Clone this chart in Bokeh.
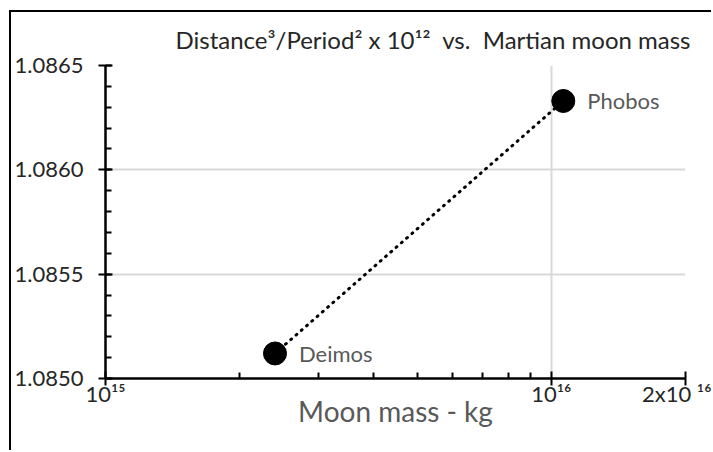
import numpy as np
from bokeh.plotting import figure
from bokeh.models import (FixedTicker, CustomJSTickFormatter, PrintfTickFormatter,
                          Title, Range1d, ColumnDataSource)
from bokeh.core.properties import value
from bokeh.embed import file_html
from bokeh.resources import INLINE

# ---- data ----
moons = ["Deimos", "Phobos"]
mass_kg = [2.40e15, 1.064e16]
ratio = [1.08512, 1.08633]

x_ticks = [1e15, 1e16, 2e16]
x_tick_labels = ["10\u00b9\u2075", "10\u00b9\u2076", "2x10 \u00b9\u2076"]
x_minor = [2e15, 3e15, 4e15, 5e15, 6e15, 7e15, 8e15, 9e15]
y_ticks = [1.0850, 1.0855, 1.0860, 1.0865]
y_minor = [float(v) for v in np.round(np.arange(1.0850, 1.08655, 0.0001), 4)]

title_text = "Distance\u00b3/Period\u00b2 x 10\u00b9\u00b2\u00a0\u00a0vs.\u00a0\u00a0Martian moon mass"
x_label = "Moon mass - kg"

FONT = "Lato"
X_MIN, X_MAX = 1e15, 2e16
Y_MIN, Y_MAX = 1.0850, 1.0865

p = figure(width=702, height=440, x_axis_type="log",
           x_range=Range1d(X_MIN, X_MAX), y_range=Range1d(Y_MIN, Y_MAX),
           output_backend="svg", toolbar_location=None,
           min_border_left=91, min_border_right=28,
           min_border_top=53, min_border_bottom=74)
p.styles = {"margin-left": "9px", "margin-top": "10px",
            "border-left": "2px solid black", "border-top": "2px solid black"}
p.outline_line_color = None
p.background_fill_color = "white"
p.border_fill_color = "white"

# title
p.title = Title(text=title_text, align="right", vertical_align="top",
                text_font=FONT, text_font_size="24px", text_font_style="normal",
                text_color="#262626", standoff=20, offset=-5)

# grids
p.ygrid.ticker = FixedTicker(ticks=y_ticks)
p.ygrid.grid_line_color = "#d9d9d9"
p.ygrid.grid_line_width = 2
p.xgrid.ticker = FixedTicker(ticks=[1e16])
p.xgrid.grid_line_color = "#d9d9d9"
p.xgrid.grid_line_width = 2

# x axis
xa = p.xaxis[0]
xa.ticker = FixedTicker(ticks=x_ticks, minor_ticks=x_minor)
xa.formatter = CustomJSTickFormatter(args=dict(tvals=x_ticks, tlabels=x_tick_labels), code="""
let best = 0;
for (let i = 0; i < tvals.length; i++) {
  if (Math.abs(Math.log10(tvals[i]) - Math.log10(tick)) <
      Math.abs(Math.log10(tvals[best]) - Math.log10(tick))) best = i;
}
return tlabels[best];
""")
xa.axis_line_width = 2.5
xa.axis_line_color = "black"
xa.major_tick_in = 7
xa.major_tick_out = 7
xa.major_tick_line_width = 2
xa.minor_tick_in = 6
xa.minor_tick_out = 0
xa.minor_tick_line_width = 2
xa.major_label_text_font = FONT
xa.major_label_text_font_size = "22px"
xa.major_label_text_color = "#262626"
xa.major_label_standoff = -6
xa.axis_label = x_label
xa.axis_label_text_font = FONT
xa.axis_label_text_font_size = "28px"
xa.axis_label_text_font_style = "normal"
xa.axis_label_text_color = "#595959"
xa.axis_label_standoff = -16

# y axis
ya = p.yaxis[0]
ya.ticker = FixedTicker(ticks=y_ticks, minor_ticks=y_minor)
ya.formatter = PrintfTickFormatter(format="%.4f")
ya.axis_line_width = 2.5
ya.axis_line_color = "black"
ya.major_tick_in = 7
ya.major_tick_out = 7
ya.major_tick_line_width = 2
ya.minor_tick_in = 6
ya.minor_tick_out = 0
ya.minor_tick_line_width = 2
ya.major_label_text_font = FONT
ya.major_label_text_font_size = "22px"
ya.major_label_text_color = "#262626"
ya.major_label_standoff = 15

src = ColumnDataSource(dict(mass=mass_kg, ratio=ratio, name=moons))

p.line("mass", "ratio", source=src, line_color="black", line_width=3,
       line_dash="1 6", line_cap="round")
p.scatter("mass", "ratio", source=src, size=23, fill_color="black", line_color="black")
p.text("mass", "ratio", text="name", source=src, x_offset=24, text_baseline="middle",
       text_font=value(FONT), text_font_size="22px", text_color="#595959")

open("out.html", "w").write(file_html(p, INLINE))
